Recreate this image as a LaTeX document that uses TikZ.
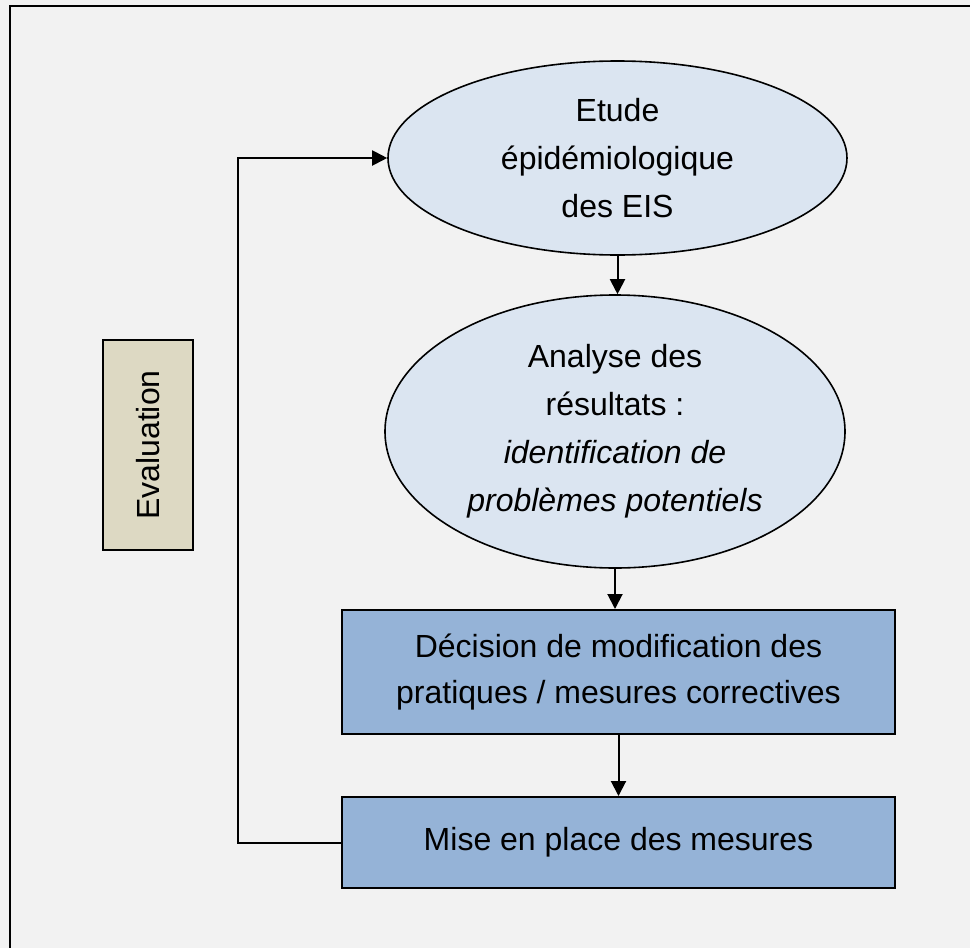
\documentclass[tikz,border=0pt]{standalone}
\usepackage{fontspec}
\setmainfont{Liberation Sans}
\usetikzlibrary{shapes,arrows.meta}
\definecolor{pagegray}{HTML}{F2F2F2}
\definecolor{paleblue}{HTML}{DBE5F1}
\definecolor{midblue}{HTML}{95B3D7}
\definecolor{tan}{HTML}{DDD9C3}
\tikzstyle{oval} = [draw, ellipse, fill=paleblue, line width=0.8pt, inner sep=0pt, align=center, font=\fontsize{16}{24}\selectfont]
\tikzstyle{box} = [draw, rectangle, fill=midblue, line width=1pt, inner sep=0pt, align=center, minimum width=276.5pt, font=\fontsize{16}{23}\selectfont]
\tikzstyle{flow} = [line width=1pt, -{Triangle[length=7.5pt,width=7.5pt]}]

\begin{document}
\begin{tikzpicture}[x=0.5pt,y=-0.5pt]
	\useasboundingbox[fill=pagegray] (0,0) rectangle (970,948);
	\draw[line width=1pt] (10,948) -- (10,6) -- (970,6);
	\node[oval, minimum width=229.5pt, minimum height=97pt] (etude) at (617.5,158) {Etude\\ épidémiologique\\ des EIS};
	\node[oval, minimum width=230pt, minimum height=136.5pt] (analyse) at (615,431.5) {Analyse des\\ résultats :\\ \textit{identification de}\\ \textit{problèmes potentiels}};
	\node[box, minimum height=62pt] (decision) at (618.5,672) {Décision de modification des\\ pratiques / mesures correctives};
	\node[box, minimum height=45.5pt] (mise) at (618.5,842.5) {Mise en place des mesures};
	\node[draw, fill=tan, line width=1pt, rotate=90, minimum width=105pt, minimum height=45pt, font=\fontsize{16}{24}\selectfont] (eval) at (148,445) {Evaluation};
	\coordinate (back) at (238,842.5);
	\draw[flow] (etude.south) -- (etude.south |- analyse.north);
	\draw[flow] (analyse.south) -- (analyse.south |- decision.north);
	\draw[flow] (decision.south) -- (mise.north);
	\draw[flow] (mise.west) -- (back) |- (etude.west);
\end{tikzpicture}
\end{document}
